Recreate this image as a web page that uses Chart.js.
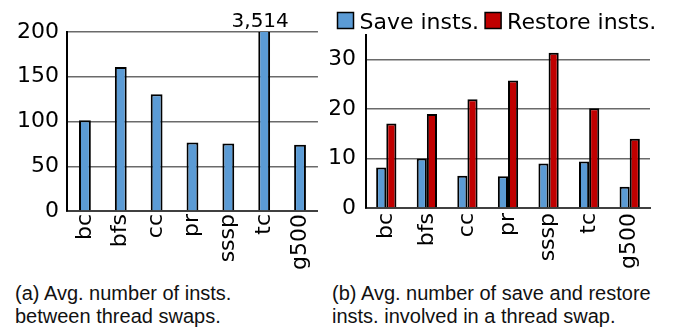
<!DOCTYPE html>
<html>
<head>
<meta charset="utf-8">
<script src="https://cdn.jsdelivr.net/npm/chart.js@4.4.1/dist/chart.umd.min.js"></script>
<style>
  body { margin: 0; background: #fff; width: 678px; height: 330px; position: relative; overflow: hidden; }
  canvas { position: absolute; top: 0; }
  #leftChart { left: 0; }
  #rightChart { left: 330px; }
  .cap { position: absolute; top: 282px; font: 20px "Liberation Sans", Arial, sans-serif; line-height: 23px; color: #111; white-space: nowrap; }
</style>
</head>
<body>
<canvas id="leftChart" width="330" height="280"></canvas>
<canvas id="rightChart" width="348" height="280"></canvas>
<div class="cap" style="left:15px">(a) Avg. number of insts.<br>between thread swaps.</div>
<div class="cap" style="left:332px">(b) Avg. number of save and restore<br>insts. involved in a thread swap.</div>
<script>
// benchmarks on the x axis of both charts
const benchmarks = ['bc', 'bfs', 'cc', 'pr', 'sssp', 'tc', 'g500'];

// (a) avg number of insts between thread swaps (tc goes off the top)
const instsBetweenSwaps = [101.5, 161, 130.5, 76.5, 75.5, 3514, 74];
const leftTicks = [0, 50, 100, 150, 200];

// (b) save / restore insts per swap
const saveInsts = [8.2, 10.0, 6.5, 6.4, 9.0, 9.4, 4.3];
const restoreInsts = [17.1, 19.0, 22.0, 25.8, 31.4, 20.2, 14.0];
const rightTicks = [0, 10, 20, 30];

const BLUE = '#5B9BD5';
const RED = '#C00000';

Chart.defaults.font.family = '"DejaVu Sans", sans-serif';
Chart.defaults.font.size = 22;
Chart.defaults.color = '#000';
Chart.defaults.animation = false;

function gridColor(major) {
  return function (c) {
    return major.includes(c.tick.value) ? '#6a6a6a' : '#cccccc';
  };
}

// writes the real value above a bar that is cut at the top of the axis
const overflowLabel = {
  id: 'overflowLabel',
  afterDatasetsDraw(chart) {
    const data = chart.data.datasets[0].data;
    const yMax = chart.scales.y.max;
    const meta = chart.getDatasetMeta(0);
    const ctx = chart.ctx;
    ctx.save();
    ctx.font = '20px "DejaVu Sans"';
    ctx.fillStyle = '#000';
    ctx.textAlign = 'center';
    ctx.textBaseline = 'alphabetic';
    data.forEach(function (v, i) {
      if (v > yMax) {
        ctx.fillText(v.toLocaleString('en-US'), meta.data[i].x - 4, chart.chartArea.top - 5);
      }
    });
    ctx.restore();
  }
};

// legend drawn as in the figure: small box right next to the text
const boxLegend = {
  id: 'boxLegend',
  afterDraw(chart, args, opts) {
    const ctx = chart.ctx;
    ctx.save();
    ctx.font = '22px "DejaVu Sans"';
    ctx.textBaseline = 'alphabetic';
    let x = opts.x;
    chart.data.datasets.forEach(function (ds) {
      ctx.fillStyle = ds.backgroundColor;
      ctx.fillRect(x, opts.y, 16, 16);
      ctx.strokeStyle = '#000';
      ctx.lineWidth = 1.5;
      ctx.strokeRect(x, opts.y, 16, 16);
      ctx.fillStyle = '#000';
      ctx.fillText(ds.label, x + 22, opts.y + 16);
      x += 22 + ctx.measureText(ds.label).width + 6;
    });
    ctx.restore();
  }
};

new Chart(document.getElementById('leftChart'), {
  type: 'bar',
  data: {
    labels: benchmarks,
    datasets: [{
      label: 'Insts. between swaps',
      data: instsBetweenSwaps,
      backgroundColor: BLUE,
      borderColor: '#000',
      borderWidth: 2,
      categoryPercentage: 1,
      barPercentage: 0.33,
      clip: 0
    }]
  },
  options: {
    responsive: false,
    layout: { padding: { top: 32, right: 8, left: 0, bottom: 0 } },
    plugins: { legend: { display: false }, tooltip: { enabled: false } },
    scales: {
      x: {
        grid: { drawOnChartArea: false, drawTicks: false },
        border: { color: '#404040', width: 2 },
        ticks: { minRotation: 90, maxRotation: 90, padding: 3, autoSkip: false },
        afterFit: function (s) { s.height = 69; }
      },
      y: {
        min: 0,
        max: 200,
        ticks: {
          stepSize: 25,
          padding: 8,
          callback: function (v) { return leftTicks.includes(v) ? v : ''; }
        },
        grid: { drawTicks: false, color: gridColor(leftTicks), lineWidth: 1.5 },
        border: { color: '#000', width: 2 },
        afterFit: function (s) { s.width = 67; }
      }
    }
  },
  plugins: [overflowLabel]
});

new Chart(document.getElementById('rightChart'), {
  type: 'bar',
  data: {
    labels: benchmarks,
    datasets: [{
      label: 'Save insts.',
      data: saveInsts,
      backgroundColor: BLUE,
      borderColor: '#000',
      borderWidth: 2,
      categoryPercentage: 0.5,
      barPercentage: 1
    }, {
      label: 'Restore insts.',
      data: restoreInsts,
      backgroundColor: RED,
      borderColor: '#000',
      borderWidth: 2,
      categoryPercentage: 0.5,
      barPercentage: 1
    }]
  },
  options: {
    responsive: false,
    layout: { padding: { top: 35, right: 28, left: 0, bottom: 0 } },
    plugins: {
      legend: { display: false },
      tooltip: { enabled: false },
      boxLegend: { x: 7.5, y: 12.5 }
    },
    scales: {
      x: {
        grid: { drawOnChartArea: false, drawTicks: false },
        border: { color: '#404040', width: 2 },
        ticks: { minRotation: 90, maxRotation: 90, padding: 5, autoSkip: false },
        afterFit: function (s) { s.height = 72; }
      },
      y: {
        min: 0,
        max: 35,
        ticks: {
          stepSize: 5,
          padding: 10,
          callback: function (v) { return rightTicks.includes(v) ? v : ''; }
        },
        grid: { drawTicks: false, color: gridColor(rightTicks), lineWidth: 1.5 },
        border: { color: '#000', width: 2 },
        afterFit: function (s) { s.width = 36; }
      }
    }
  },
  plugins: [boxLegend]
});
</script>
</body>
</html>
